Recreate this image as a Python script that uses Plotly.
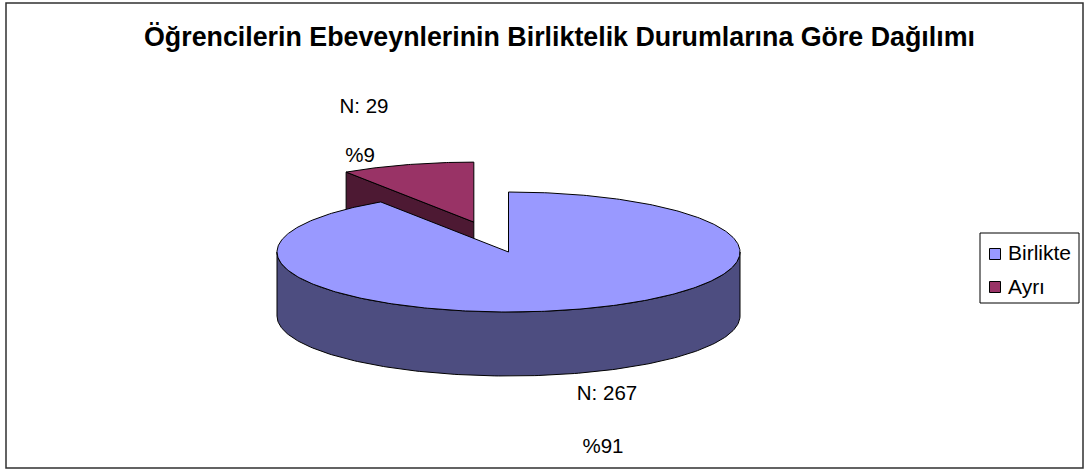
import numpy as np
import plotly.graph_objects as go

# --- data ---
categories = ["Birlikte", "Ayrı"]
counts = [267, 29]
shares = [90.7, 9.3]
count_labels = ["N: 267", "N: 29"]
pct_labels = ["%91", "%9"]
title = "Öğrencilerin Ebeveynlerinin Birliktelik Durumlarına Göre Dağılımı"

# --- pie geometry / style ---
CX, CY, RX, RY, DEPTH = 508.5, 252, 231.5, 60, 64
EXPLODE = 0.52
TOP = ["#9999FF", "#993366"]
SIDE = ["#4D4D80", "#4D1933"]
FONT = "Liberation Sans"
EDGE = dict(color="black", width=1)


def arc(a0, a1, cx, cy, n=180):
    t = np.radians(np.linspace(a0, a1, n))
    return cx + RX * np.sin(t), cy - RY * np.cos(t)


fig = go.Figure()


def poly(x, y, color):
    fig.add_trace(go.Scatter(x=list(x) + [x[0]], y=list(y) + [y[0]], mode="lines",
                             fill="toself", fillcolor=color, line=EDGE,
                             hoverinfo="skip", showlegend=False))


split = 360 * shares[0] / sum(shares)

# exploded small slice
mid = np.radians((split + 360) / 2)
ex = CX + EXPLODE * RX * np.sin(mid)
ey = CY - EXPLODE * RY * np.cos(mid)
ax, ay = arc(split, 360, ex, ey, 60)
poly([ax[0], ex, ex, ax[0]], [ay[0], ey, ey + DEPTH, ay[0] + DEPTH], SIDE[1])
poly(list(ax) + [ex], list(ay) + [ey], TOP[1])

# large slice: wall, then top
wx, wy = arc(90, 270, CX, CY)
poly(list(wx) + list(wx[::-1]), list(wy) + list(wy[::-1] + DEPTH), SIDE[0])
tx, ty = arc(0, split, CX, CY, 400)
poly(list(tx) + [CX], list(ty) + [CY], TOP[0])

# data labels
fig.add_trace(go.Scatter(
    x=[607, 603, 364, 360], y=[395, 448, 108, 157],
    text=[count_labels[0], pct_labels[0], count_labels[1], pct_labels[1]],
    mode="text", textposition="middle center",
    textfont=dict(family=FONT, size=20.5, color="black"),
    hoverinfo="skip", showlegend=False))

# legend
fig.add_shape(type="rect", x0=980, x1=1079, y0=233, y1=303,
              line=dict(color="black", width=1), fillcolor="white", layer="below")
fig.add_trace(go.Scatter(
    x=[995, 995], y=[254, 287], mode="markers",
    marker=dict(symbol="square", size=11, color=TOP, line=dict(color="black", width=1)),
    hoverinfo="skip", showlegend=False))
fig.add_trace(go.Scatter(
    x=[1008, 1008], y=[255, 289], text=categories, mode="text", textposition="middle right",
    textfont=dict(family=FONT, size=21, color="black"),
    hoverinfo="skip", showlegend=False))

# outer frame
fig.add_shape(type="rect", x0=6, x1=1083, y0=3, y1=468,
              line=dict(color="#303030", width=1.5), layer="below")

fig.update_layout(
    width=1086, height=471, margin=dict(l=0, r=0, t=0, b=0),
    paper_bgcolor="white", plot_bgcolor="white", showlegend=False,
    xaxis=dict(range=[0, 1086], visible=False, fixedrange=True),
    yaxis=dict(range=[471, 0], visible=False, fixedrange=True),
    annotations=[dict(x=559, y=37, xref="x", yref="y", text="<b>%s</b>" % title,
                      showarrow=False, font=dict(family=FONT, size=26.8, color="black"))],
)
fig.write_html("out.html", config={"displayModeBar": False},
               post_script="document.body.style.margin='0';")
